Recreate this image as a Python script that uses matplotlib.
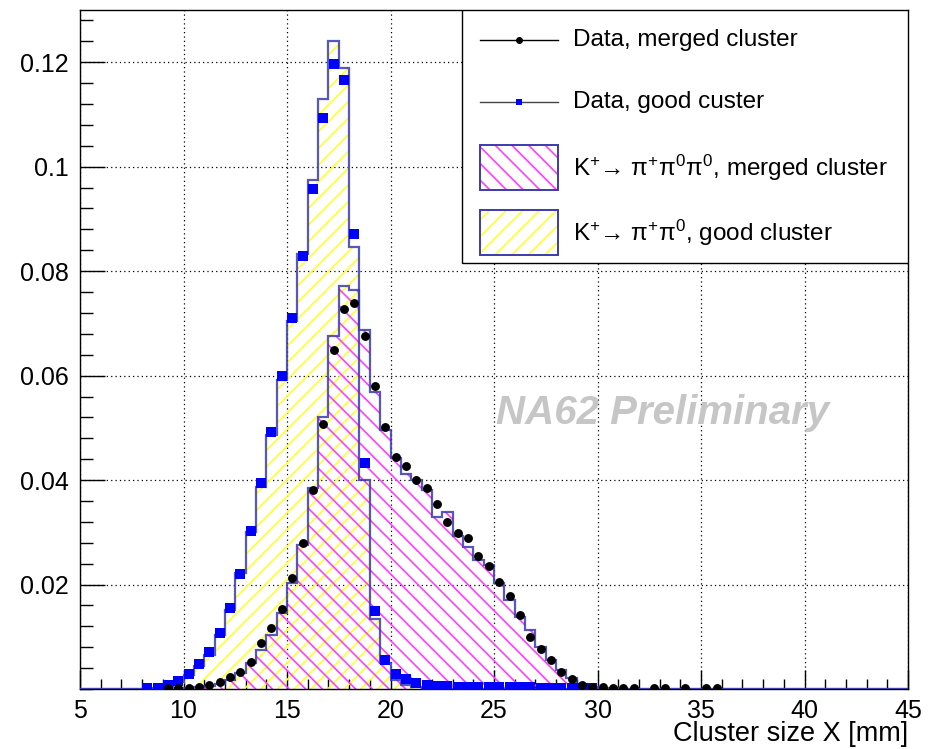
import numpy as np
import matplotlib.pyplot as plt
from matplotlib.ticker import MultipleLocator, FixedLocator, FixedFormatter
from matplotlib.patches import Rectangle

plt.rcParams['font.family'] = ['Liberation Sans', 'DejaVu Sans']
plt.rcParams['mathtext.fontset'] = 'custom'
plt.rcParams['mathtext.rm'] = 'Liberation Sans'
plt.rcParams['mathtext.it'] = 'Liberation Sans:italic'
plt.rcParams['hatch.linewidth'] = 1.2

# bins of 0.5 mm from 5 to 45
bin_lo = 5.0
bin_w = 0.5
n_bins = 80

# MC K+ -> pi+ pi0, good cluster (first bin starts at 8.5)
mc_good_start = 8.5
mc_good = [0.0002, 0.0006, 0.0013, 0.0027, 0.0044, 0.0065, 0.0103, 0.0151,
           0.0222, 0.0300, 0.0387, 0.0486, 0.0591, 0.0705, 0.0832, 0.0974,
           0.1129, 0.1240, 0.1188, 0.0846, 0.0400, 0.0134, 0.0050, 0.0018,
           0.0008, 0.0003, 0.0001]

# MC K+ -> pi+ pi0 pi0, merged cluster (first bin starts at 9.5)
mc_merged_start = 9.5
mc_merged = [0.0001, 0.0002, 0.0003, 0.0006, 0.0010, 0.0018, 0.0030, 0.0050,
             0.0075, 0.0103, 0.0145, 0.0203, 0.0276, 0.0385, 0.0520, 0.0676,
             0.0771, 0.0763, 0.0687, 0.0568, 0.0496, 0.0442, 0.0411, 0.0400,
             0.0381, 0.0330, 0.0339, 0.0292, 0.0272, 0.0247, 0.0237, 0.0203,
             0.0170, 0.0138, 0.0113, 0.0081, 0.0055, 0.0036, 0.0021, 0.0010,
             0.0004, 0.0002, 0.0001]

# data, good cluster (first bin starts at 8.0)
data_good_start = 8.0
data_good = [0.0002, 0.0002, 0.0008, 0.0015, 0.0029, 0.0048, 0.0071, 0.0107,
             0.0155, 0.0220, 0.0303, 0.0394, 0.0492, 0.0599, 0.0710, 0.0829,
             0.0957, 0.1093, 0.1196, 0.1166, 0.0871, 0.0433, 0.0149, 0.0056,
             0.0029, 0.0019, 0.0012, 0.0008, 0.0006, 0.0005, 0.0004, 0.0004,
             0.0003, 0.0003, 0.0003, 0.0003, 0.0003, 0.0003, 0.0002, 0.0002,
             0.0002, 0.0002, 0.0002, 0.0001]

# data, merged cluster (first bin starts at 9.0), nan = empty bin
data_merged_start = 9.0
data_merged = [0.0001, 0.0001, 0.0002, 0.0004, 0.0008, 0.0013, 0.0023, 0.0033,
               0.0052, 0.0088, 0.0117, 0.0153, 0.0212, 0.0279, 0.0381, 0.0507,
               0.0649, 0.0727, 0.0739, 0.0676, 0.0580, 0.0501, 0.0444, 0.0427,
               0.0400, 0.0385, 0.0354, 0.0320, 0.0298, 0.0289, 0.0255, 0.0235,
               0.0205, 0.0178, 0.0142, 0.0100, 0.0076, 0.0056, 0.0033, 0.0019,
               0.0008, 0.0004, 0.0003, 0.0002, 0.0002, 0.0001, np.nan, 0.0001,
               0.0001, np.nan, 0.0001, np.nan, 0.0001, 0.0001]

ytick_vals = [0.02, 0.04, 0.06, 0.08, 0.1, 0.12]
ytick_labels = ['0.02', '0.04', '0.06', '0.08', '0.1', '0.12']

edges = bin_lo + bin_w * np.arange(n_bins + 1)
centers = 0.5 * (edges[:-1] + edges[1:])


def to_bins(start, vals, fill=0.0):
    arr = np.full(n_bins, fill)
    i0 = int(round((start - bin_lo) / bin_w))
    arr[i0:i0 + len(vals)] = vals
    return arr


h_good = to_bins(mc_good_start, mc_good)
h_merged = to_bins(mc_merged_start, mc_merged)
p_good = to_bins(data_good_start, data_good, np.nan)
p_merged = to_bins(data_merged_start, data_merged, np.nan)

outline = '#3b3bb0'
yellow = '#ffff30'
magenta = '#ff40ff'

fig = plt.figure(figsize=(9.39, 7.49), dpi=100)
ax = fig.add_axes([80 / 939, 60 / 749, 828 / 939, 679 / 749])

ax.stairs(h_good, edges, fill=True, facecolor='none', edgecolor=yellow,
          hatch='//', linewidth=0, zorder=2)
ax.stairs(h_merged, edges, fill=True, facecolor='none', edgecolor=magenta,
          hatch='\\\\', linewidth=0, zorder=2)
ax.stairs(h_good, edges, color=outline, linewidth=1.6, alpha=0.85, zorder=3)
ax.stairs(h_merged, edges, color=outline, linewidth=1.6, alpha=0.85, zorder=3)

ax.plot(centers, p_good, 's', color='#0000ff', ms=6.6, mew=0, zorder=4)
ax.plot(centers, p_merged, 'o', color='black', ms=6.4, mew=0, zorder=4)

ax.set_xlim(5, 45)
ax.set_ylim(0, 0.13)
ax.xaxis.set_major_locator(MultipleLocator(5))
ax.xaxis.set_minor_locator(MultipleLocator(1))
ax.yaxis.set_major_locator(FixedLocator(ytick_vals))
ax.yaxis.set_major_formatter(FixedFormatter(ytick_labels))
ax.yaxis.set_minor_locator(MultipleLocator(0.004))
ax.tick_params(which='both', direction='in', labelsize=18, width=1)
ax.tick_params(axis='x', which='major', length=14, pad=7)
ax.tick_params(axis='x', which='minor', length=7)
ax.tick_params(axis='y', which='major', length=18, pad=8)
ax.tick_params(axis='y', which='minor', length=9)
ax.grid(True, which='major', color='black', linestyle=(0, (1, 2.5)),
        linewidth=0.9, zorder=1)
ax.set_axisbelow(True)
for s in ax.spines.values():
    s.set_linewidth(1)

fig.text(908 / 939, 1 - 734 / 749, 'Cluster size X [mm]', fontsize=19.5,
         ha='right', va='center')

ax.text(0.703, 0.406, 'NA62 Preliminary', transform=ax.transAxes,
        fontsize=29, fontweight='bold', fontstyle='italic', color='#c6c6c6',
        ha='center', va='center', zorder=1.5)

# legend box drawn by hand to match ROOT layout
lx0, ly0, lw, lh = 0.461, 0.627, 0.539, 0.373
ax.add_patch(Rectangle((lx0, ly0), lw, lh, transform=ax.transAxes,
                       facecolor='white', edgecolor='black', lw=1, zorder=10))
rows = [0.956, 0.864, 0.768, 0.672]
hx0, hx1 = 0.483, 0.577
tx = 0.5954
ph = 0.0663
ax.plot([hx0, hx1], [rows[0]] * 2, color='black', lw=1,
        transform=ax.transAxes, zorder=11)
ax.plot([(hx0 + hx1) / 2], [rows[0]], 'o', color='black', ms=4,
        transform=ax.transAxes, zorder=12)
ax.plot([hx0, hx1], [rows[1]] * 2, color='#444444', lw=1,
        transform=ax.transAxes, zorder=11)
ax.plot([(hx0 + hx1) / 2], [rows[1]], 's', color='#0000ff', ms=5, mew=0,
        transform=ax.transAxes, zorder=12)
for r, col, hat in [(rows[2], magenta, '\\\\'), (rows[3], yellow, '//')]:
    ax.add_patch(Rectangle((hx0, r - ph / 2), hx1 - hx0, ph,
                           transform=ax.transAxes, facecolor='none',
                           edgecolor=col, hatch=hat, lw=0, zorder=11))
    ax.add_patch(Rectangle((hx0, r - ph / 2), hx1 - hx0, ph,
                           transform=ax.transAxes, facecolor='none',
                           edgecolor=outline, lw=1.4, zorder=12))

labels = ['Data, merged cluster',
          'Data, good custer',
          'K$^{+}$\u2192 π$^{+}$π$^{0}$π$^{0}$, merged cluster',
          'K$^{+}$\u2192 π$^{+}$π$^{0}$, good cluster']
for r, t in zip(rows, labels):
    ax.text(tx, r, t, transform=ax.transAxes, fontsize=17.5, ha='left',
            va='center', zorder=13)

fig.savefig('out.png', dpi=100)
